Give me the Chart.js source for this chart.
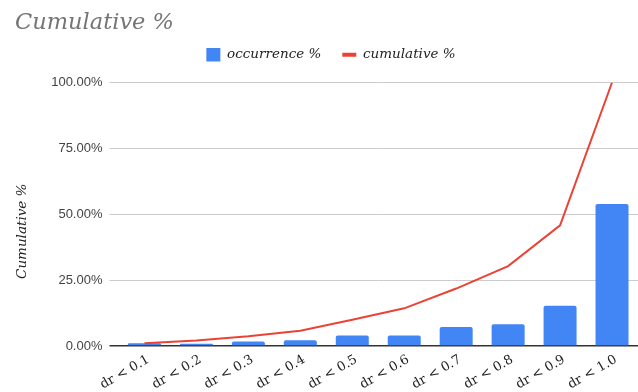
<!DOCTYPE html>
<html>
<head>
<meta charset="utf-8">
<script src="https://cdn.jsdelivr.net/npm/chart.js@4.4.1/dist/chart.umd.min.js"></script>
<style>
  html, body { margin: 0; padding: 0; background: #ffffff; }
  #wrap { width: 638px; height: 392px; position: relative; }
</style>
</head>
<body>
<div id="wrap"><canvas id="chart"></canvas></div>
<script>
// Bucketed dr ratios with per-bucket share and running total (percent)
const categories = ['dr < 0.1', 'dr < 0.2', 'dr < 0.3', 'dr < 0.4', 'dr < 0.5',
                    'dr < 0.6', 'dr < 0.7', 'dr < 0.8', 'dr < 0.9', 'dr < 1.0'];
const occurrencePct = [1.0, 0.9, 1.7, 2.2, 4.0, 4.0, 7.2, 8.3, 15.3, 53.9];
const cumulativePct = [1.0, 2.1, 3.7, 5.8, 10.0, 14.3, 21.8, 30.3, 45.8, 100.0];
const yTicks = [0, 25, 50, 75, 100];
const yAxisTitle = 'Cumulative %';

const SERIF = '"DejaVu Serif", serif';
const SANS = '"Liberation Sans", Arial, sans-serif';

// Indent the chart title, nudge the legend right and leave a gap under it
const layoutTweaksPlugin = {
  id: 'layoutTweaks',
  afterInit(chart) {
    const legend = chart.legend;
    if (legend && !legend._gapPatched) {
      const fit = legend.fit;
      legend.fit = function () {
        fit.call(this);
        this.height += 11;
      };
      legend._gapPatched = true;
    }
  },
  afterLayout(chart) {
    if (chart.titleBlock) chart.titleBlock.left = 15;
    if (chart.legend) {
      chart.legend.left += 24;
      chart.legend.right += 0;
    }
  }
};

// Vertical axis caption, drawn in the left margin
const yTitlePlugin = {
  id: 'yTitle',
  afterDraw(chart) {
    const { ctx, chartArea } = chart;
    ctx.save();
    ctx.translate(22, (chartArea.top + chartArea.bottom) / 2 + 17);
    ctx.rotate(-Math.PI / 2);
    ctx.font = 'italic 13.5px ' + SERIF;
    ctx.fillStyle = '#222222';
    ctx.textAlign = 'center';
    ctx.textBaseline = 'middle';
    ctx.fillText(yAxisTitle, 0, 0);
    ctx.restore();
  }
};

new Chart(document.getElementById('chart'), {
  data: {
    labels: categories,
    datasets: [
      {
        type: 'bar',
        label: 'occurrence %',
        data: occurrencePct,
        backgroundColor: '#4285f4',
        borderRadius: 2,
        borderSkipped: 'bottom',
        categoryPercentage: 1.0,
        barPercentage: 0.635,
        pointStyle: 'rect',
        order: 2
      },
      {
        type: 'line',
        label: 'cumulative %',
        data: cumulativePct,
        borderColor: '#ea4335',
        backgroundColor: '#ea4335',
        borderWidth: 2,
        pointRadius: 0,
        pointHoverRadius: 0,
        tension: 0,
        pointStyle: 'line',
        order: 1
      }
    ]
  },
  plugins: [layoutTweaksPlugin, yTitlePlugin],
  options: {
    responsive: true,
    maintainAspectRatio: false,
    animation: false,
    layout: { padding: { left: 0, right: 0, top: 0, bottom: 0 } },
    plugins: {
      title: {
        display: true,
        text: 'Cumulative %',
        align: 'start',
        color: '#757575',
        font: { family: SERIF, size: 22.5, style: 'italic', weight: 'normal' },
        padding: { top: 10, bottom: -10 }
      },
      legend: {
        display: true,
        position: 'top',
        labels: {
          usePointStyle: true,
          pointStyleWidth: 14,
          boxWidth: 14,
          boxHeight: 14,
          color: '#222222',
          padding: 21,
          font: { family: SERIF, size: 13.5, style: 'italic' },
          generateLabels(chart) {
            const items = Chart.defaults.plugins.legend.labels.generateLabels(chart);
            items.sort((a, b) => a.datasetIndex - b.datasetIndex);
            items.forEach(it => {
              if (it.datasetIndex === 1) { it.lineWidth = 4; it.strokeStyle = '#ea4335'; }
              else { it.lineWidth = 0; }
            });
            return items;
          }
        }
      },
      tooltip: { enabled: false }
    },
    scales: {
      x: {
        grid: { display: false },
        border: { display: false },
        afterFit(scale) { scale.height = 46; },
        ticks: {
          color: '#222222',
          font: { family: SERIF, size: 13 },
          minRotation: 30,
          maxRotation: 30,
          autoSkip: false,
          labelOffset: 4,
          padding: -2
        }
      },
      y: {
        min: 0,
        max: 100,
        afterBuildTicks(scale) { scale.ticks = yTicks.map(v => ({ value: v })); },
        afterFit(scale) { scale.width = 118.5; },
        border: { display: false },
        grid: {
          color: ctx => (ctx.tick && ctx.tick.value === 0) ? '#333333' : '#cccccc',
          lineWidth: ctx => (ctx.tick && ctx.tick.value === 0) ? 1.5 : 1,
          tickLength: 9,
          drawTicks: true
        },
        ticks: {
          color: '#444444',
          font: { family: SANS, size: 13 },
          padding: 7,
          callback: v => v.toFixed(2) + '%'
        }
      }
    }
  }
});
</script>
</body>
</html>
